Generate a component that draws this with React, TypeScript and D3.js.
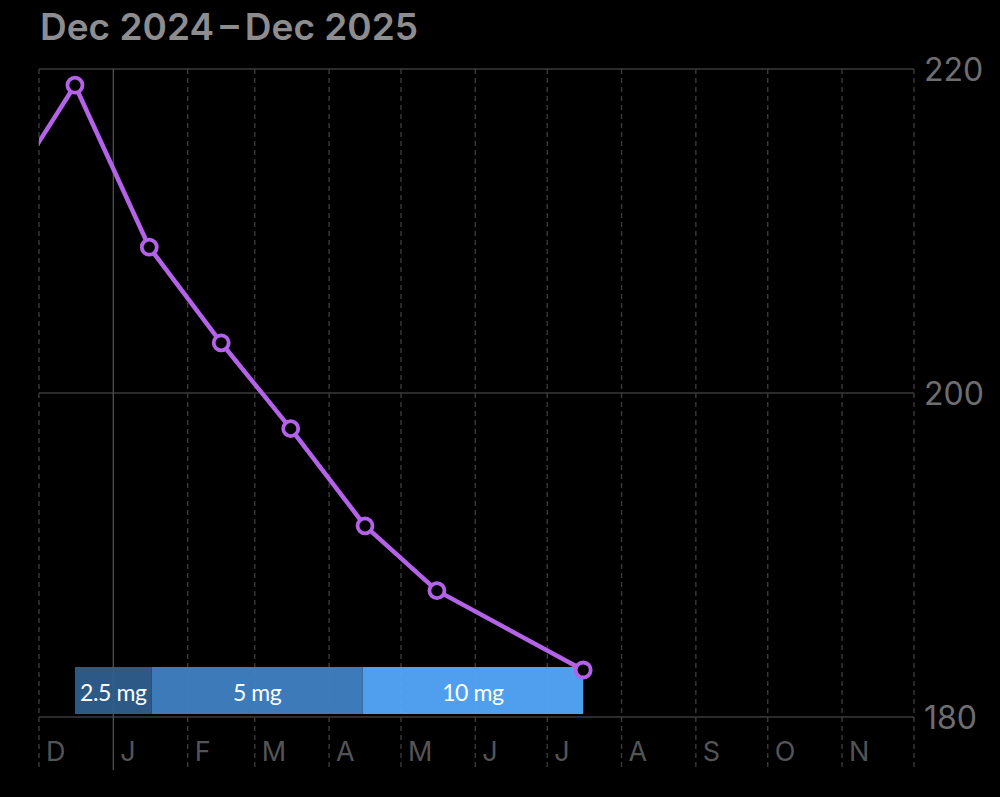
import React from "react";
import * as d3 from "d3";

const title = "Dec 2024\u2009\u2013\u2009Dec 2025";
const monthLabels = ["D", "J", "F", "M", "A", "M", "J", "J", "A", "S", "O", "N"];
const pointDates = ["2024-11-16", "2024-12-16", "2025-01-16", "2025-02-15", "2025-03-16", "2025-04-16", "2025-05-16", "2025-07-16"];
const pointValues = [212.0, 219.0, 209.0, 203.1, 197.8, 191.8, 187.8, 182.9];
const doseLabels = ["2.5 mg", "5 mg", "10 mg"];
const doseStarts = ["2024-12-16", "2025-01-17", "2025-04-15"];
const doseEnds = ["2025-01-17", "2025-04-15", "2025-07-16"];
const doseColors = ["#2e5e8c", "#3f81c4", "#54a8fc"];
const yTicks = [180, 200, 220];

const W = 1000;
const H = 797;
const left = 39;
const right = 914;
const top = 69;
const bottom = 717;

const parse = d3.timeParse("%Y-%m-%d");

export default function App() {
  const x = d3
    .scaleTime()
    .domain([new Date(2024, 11, 1), new Date(2025, 11, 1)])
    .range([left, right]);
  const y = d3.scaleLinear().domain([180, 220]).range([bottom, top]);
  const months = d3.timeMonth.range(new Date(2024, 11, 1), new Date(2025, 11, 2));
  const pts = pointDates.map((d, i) => ({ date: parse(d) as Date, v: pointValues[i] }));
  const line = d3
    .line<{ date: Date; v: number }>()
    .x((d) => x(d.date))
    .y((d) => y(d.v));
  const barTop = 667;
  const barBottom = 714;

  return (
    <svg
      width={W}
      height={H}
      style={{ position: "absolute", left: 0, top: 0, background: "#000" }}
    >
      <rect x={0} y={0} width={W} height={H} fill="#000" />
      <text
        x={40}
        y={40}
        fill="#8d8d8f"
        fontFamily="Inter, 'Open Sans', sans-serif"
        fontWeight={600}
        fontSize={37}
      >
        {title}
      </text>
      <defs>
        <clipPath id="plotclip">
          <rect x={left} y={top - 20} width={right - left} height={bottom - top + 40} />
        </clipPath>
      </defs>
      {/* horizontal grid */}
      {yTicks.map((t) => (
        <line key={t} x1={left} x2={right} y1={y(t)} y2={y(t)} stroke="#3a3a3c" strokeWidth={1.5} />
      ))}
      {/* vertical grid */}
      {months.map((m, i) => {
        const isJan = m.getMonth() === 0;
        return (
          <line
            key={i}
            x1={x(m)}
            x2={x(m)}
            y1={top}
            y2={770}
            stroke={isJan ? "#505052" : "#3e3e40"}
            strokeWidth={1.3}
            strokeDasharray={isJan ? undefined : "5,4"}
          />
        );
      })}
      {/* dose bars */}
      {doseLabels.map((lab, i) => {
        const x0 = x(parse(doseStarts[i]) as Date);
        const x1 = x(parse(doseEnds[i]) as Date);
        return (
          <rect
            key={lab}
            x={x0}
            y={barTop}
            width={x1 - x0}
            height={barBottom - barTop}
            fill={doseColors[i]}
            opacity={0.95}
          />
        );
      })}
      {/* dose labels */}
      {doseLabels.map((lab, i) => {
        const x0 = x(parse(doseStarts[i]) as Date);
        const x1 = x(parse(doseEnds[i]) as Date);
        return (
          <text
            key={lab}
            x={(x0 + x1) / 2}
            y={701}
            textAnchor="middle"
            fill="#ffffff"
            fontFamily="Lato, 'Open Sans', sans-serif"
            fontSize={23}
            letterSpacing={-0.4}
          >
            {lab}
          </text>
        );
      })}
      {/* month labels */}
      {months.slice(0, 12).map((m, i) => (
        <text
          key={i}
          x={x(m) + 7}
          y={761}
          fill="#545456"
          fontFamily="Inter, 'Open Sans', sans-serif"
          fontSize={27}
        >
          {monthLabels[i]}
        </text>
      ))}
      {/* y labels */}
      {yTicks.map((t) => (
        <text
          key={t}
          x={924}
          y={y(t) + 12}
          fill="#6e6e70"
          fontFamily="Inter, 'Open Sans', sans-serif"
          fontSize={32}
        >
          {t}
        </text>
      ))}
      <g clipPath="url(#plotclip)">
        <path d={line(pts) || ""} fill="none" stroke="#b462e8" strokeWidth={4.5} strokeLinejoin="round" />
        {pts.map((p, i) => (
          <circle key={i} cx={x(p.date)} cy={y(p.v)} r={7.5} fill="#000" stroke="#b462e8" strokeWidth={3.8} />
        ))}
      </g>
    </svg>
  );
}
